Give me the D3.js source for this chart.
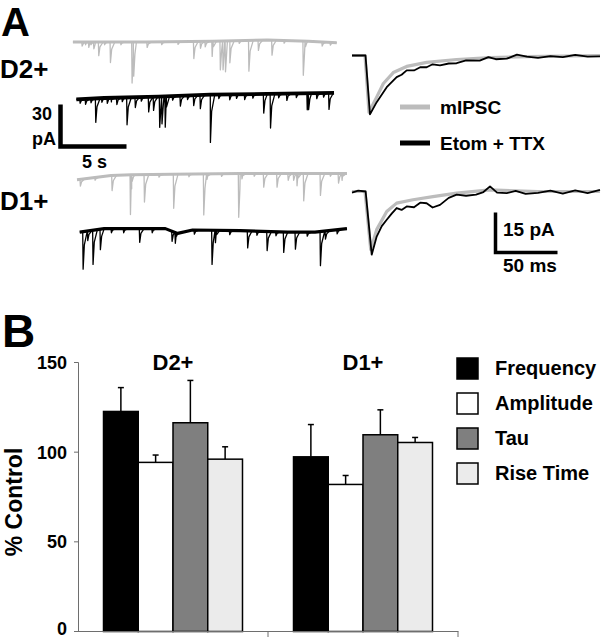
<!DOCTYPE html>
<html><head><meta charset="utf-8">
<script src="https://cdn.jsdelivr.net/npm/d3@7"></script>
<style>body{margin:0;background:#fff}svg{display:block}text{font-family:"Liberation Sans",Arial,sans-serif;font-weight:bold;fill:#000}</style>
</head><body>
<svg id="c" width="603" height="639"></svg>
<script>
// ---------- Panel B data ----------
const categories = ["D2+", "D1+"];
const seriesNames = ["Frequency", "Amplitude", "Tau", "Rise Time"];
const seriesColors = ["#000000", "#ffffff", "#7f7f7f", "#ebebeb"];
const meanD2 = [122.7, 94.3, 116.4, 96.1];
const errD2  = [136.0, 98.4, 140.0, 103.0];
const meanD1 = [97.4, 82.0, 109.7, 105.4];
const errD1  = [115.4, 87.0, 123.6, 108.2];
const yTicks = [0, 50, 100, 150];

// ---------- Panel A data: spontaneous traces (events: [time s, amplitude pA]) ----------
const d2GrayEvents = [[0.35,3],[0.6,2],[0.84,4],[1.0,2],[1.21,5],[1.57,10],[2.0,2],[2.43,15],[3.2,2],[4.02,30],[4.14,25],[5.13,4],[6.2,2],[7.4,2],[8.56,12.5],[9.05,5],[9.4,4],[9.91,11],[10.51,21],[10.71,21],[10.89,22.5],[11.21,16],[11.9,2],[12.61,22.5],[13.31,7.5],[14.31,11],[15.2,2],[16.61,25],[16.77,4],[18.0,3],[18.6,2]];
const d2GrayBase = [[-0.3,0],[5,0],[10,-0.5],[14,-1.5],[17,-0.5],[19.1,0.5]];
const d2BlackEvents = [[0.2,3],[0.6,4],[1.0,3],[1.35,17.5],[1.8,3],[2.2,4],[2.5,3],[2.9,5],[3.3,3],[3.65,20],[4.26,7.5],[4.7,3],[5.24,11],[5.6,10],[6.05,22.5],[6.22,20],[6.46,22.5],[7.0,3],[7.57,7.5],[8.1,3],[8.55,7.5],[9.04,10],[9.78,35],[10.4,3],[11.2,4],[11.7,3],[12.3,4],[12.9,3],[13.7,14],[14.2,25],[14.8,3],[15.4,5],[16.1,3],[16.9,12],[17.0,12],[17.6,4],[18.1,3],[18.5,12]];
const d2BlackBase = [[-0.05,1],[2,0],[6,-1],[9.8,-2.5],[14,-3],[18.9,-3.7]];
const d1GrayEvents = [[0.22,5],[1.3,2],[2.55,11],[3.9,29],[4.02,5],[4.93,20],[6.0,2],[7.08,25],[8.2,2],[9.29,30],[9.53,4],[10.6,2],[11.86,32],[12.1,4],[13.0,2],[13.7,10],[14.68,10],[15.5,5],[15.9,5],[16.15,9],[16.64,20],[17.87,16],[18.6,2],[19.2,7],[19.46,5]];
const d1GrayBase = [[0,4.5],[2.5,1.5],[4,1],[7,0.5],[12,0],[19.85,0]];
const d1BlackEvents = [[0.42,27.5],[0.76,7],[1.15,25],[1.69,15],[2.5,3],[3.4,3],[4.58,10],[5.5,3],[6.96,7.5],[7.2,8],[8.6,3],[9.9,25],[10.15,9],[11.2,3],[12.52,12.5],[13.2,3],[13.95,14],[14.6,3],[15.17,15],[16.03,12.5],[16.9,3],[17.87,25],[18.24,6],[19.1,3]];
const d1BlackBase = [[0.2,1.5],[2,-1],[6.5,-1],[7.4,2.5],[8.5,0],[12,0.5],[15.5,1.5],[17.5,1.5],[19.85,-1]];

// ---------- Panel A data: averaged mIPSCs ([time ms, amplitude pA]) ----------
const d2AvgGray  = [[0,0],[10.5,0],[13.7,21.3],[19.9,15.6],[25.3,10.5],[33.3,6.4],[44.1,4.1],[60.2,2.6],[84.4,1.5],[111.3,0.75],[140.9,0.4],[200,0]];
const d2AvgBlack = [[0,0],[10.9,0],[14.5,22.1],[19.9,17.5],[28,11.9],[36,8.1],[40,7.2],[44.1,5.6],[50,5.6],[55,4.4],[60.2,4.4],[65,3.3],[71,3.7],[78,3.0],[84.4,2.9],[92,1.8],[103,1.9],[110,0.6],[116,1.4],[124.8,1.2],[133,-0.3],[141,0.4],[150,0.9],[160,0.2],[170,0.6],[180,-0.2],[190,0.4],[200,0.3]];
const d1AvgGray  = [[0,0],[10.5,0],[15.1,21.8],[19.9,14.3],[28,7.5],[36,4.35],[49.2,3.1],[65.3,1.9],[84.4,0.6],[111.3,-0.6],[150,0],[200,0]];
const d1AvgBlack = [[0,0.4],[5,-0.3],[11,0],[15.9,23.7],[19.9,16.9],[24,13.0],[28,10.6],[32,8.3],[36,6.2],[40,6.9],[44.1,5.6],[50,5.9],[55,4.2],[60.2,4.4],[65,6.0],[71,5.0],[78,2.4],[84.4,1.2],[92,1.6],[100,1.2],[106,0.2],[111.3,-1.9],[117,0.4],[124.8,0.6],[132,-0.2],[140,0.9],[150,0.5],[160,-0.3],[170,0.8],[180,-0.4],[190,0.6],[200,-0.6]];

const legendA = ["mIPSC", "Etom + TTX"];
const traceGray = "#bcbcbc", traceBlack = "#000";

const svg = d3.select("#c");

// ================= Panel A =================
svg.append("text").attr("x", 1).attr("y", 36).style("font-size", "40px").text("A");
svg.append("text").attr("x", 0).attr("y", 78).style("font-size", "26px").text("D2+");
svg.append("text").attr("x", 0).attr("y", 210).style("font-size", "26px").text("D1+");

const xs = d3.scaleLinear().domain([0, 5]).range([77, 145]); // 5 s = 68 px
const pxPerPA = 41 / 30;

function drawTrace(events, base, baseY, color, bandW) {
  const b = d3.scaleLinear().domain(base.map(d => d[0])).range(base.map(d => d[1])).clamp(true);
  const ys = v => baseY + v * pxPerPA;
  svg.append("path").datum(base)
    .attr("d", d3.line().x(d => xs(d[0])).y(d => ys(d[1])))
    .attr("fill", "none").attr("stroke", color).attr("stroke-width", bandW).attr("stroke-linejoin", "round");
  const pts = base.map(d => [d[0], d[1]]);
  events.forEach(([t, a]) => {
    pts.push([t, b(t)], [t + 0.03, b(t) + a], [t + 0.12, b(t) + a * 0.35], [t + 0.35, b(t + 0.35)]);
  });
  pts.sort((p, q) => p[0] - q[0]);
  svg.append("path").datum(pts)
    .attr("d", d3.line().x(d => xs(d[0])).y(d => ys(d[1])))
    .attr("fill", "none").attr("stroke", color).attr("stroke-width", 1.3).attr("stroke-linejoin", "round");
}
drawTrace(d2GrayEvents, d2GrayBase, 42, traceGray, 3);
drawTrace(d2BlackEvents, d2BlackBase, 98, traceBlack, 3.8);
drawTrace(d1GrayEvents, d1GrayBase, 173.5, traceGray, 3);
drawTrace(d1BlackEvents, d1BlackBase, 230, traceBlack, 3.2);

// scale bar 30 pA / 5 s
const sbX = 60.5, sbY = 146.5;
svg.append("path")
  .attr("d", `M${sbX},${sbY - 30 * pxPerPA - 1}V${sbY}H${sbX + xs(5) - xs(0) - 2}`)
  .attr("fill", "none").attr("stroke", "#000").attr("stroke-width", 4.5);
svg.append("text").attr("x", 52).attr("y", 120).attr("text-anchor", "end").style("font-size", "18px").text("30");
svg.append("text").attr("x", 32).attr("y", 145).style("font-size", "18px").text("pA");
svg.append("text").attr("x", 82).attr("y", 168).style("font-size", "18px").text("5 s");

// averaged traces
const xm = d3.scaleLinear().domain([0, 200]).range([352, 600]);
const pxPerPA2 = 40 / 15;
function drawAvg(data, baseY, color, w) {
  svg.append("path").datum(data)
    .attr("d", d3.line().x(d => xm(d[0])).y(d => baseY + d[1] * pxPerPA2))
    .attr("fill", "none").attr("stroke", color).attr("stroke-width", w).attr("stroke-linejoin", "round");
}
drawAvg(d2AvgGray, 55.5, traceGray, 3.2);
drawAvg(d2AvgBlack, 55.5, traceBlack, 1.8);
drawAvg(d1AvgGray, 191.5, traceGray, 3.2);
drawAvg(d1AvgBlack, 191.5, traceBlack, 1.8);

// legend A
[[traceGray, 107, 114], [traceBlack, 143, 150]].forEach(([c, ly, ty], i) => {
  svg.append("line").attr("x1", 400).attr("x2", 430).attr("y1", ly).attr("y2", ly)
    .attr("stroke", c).attr("stroke-width", 5);
  svg.append("text").attr("x", 440).attr("y", ty).style("font-size", "19px").text(legendA[i]);
});

// scale bar 15 pA / 50 ms
const sb2X = 495.5, sb2Y = 252.5;
svg.append("path")
  .attr("d", `M${sb2X},${sb2Y - 15 * pxPerPA2}V${sb2Y}H${sb2X + xm(50) - xm(0)}`)
  .attr("fill", "none").attr("stroke", "#000").attr("stroke-width", 3.5);
svg.append("text").attr("x", 503).attr("y", 236).style("font-size", "19px").text("15 pA");
svg.append("text").attr("x", 503).attr("y", 272).style("font-size", "19px").text("50 ms");

// ================= Panel B =================
svg.append("text").attr("x", 2).attr("y", 347).style("font-size", "46px").text("B");

const y = d3.scaleLinear().domain([0, 150]).range([631.5, 362.5]);
const x0 = d3.scaleBand().domain(categories).range([78, 458]).padding(0);
const x1 = d3.scaleBand().domain(seriesNames).range([0, x0.bandwidth()]).paddingInner(0).paddingOuter(0.734);

const axisCol = "#6e6e6e";
svg.append("line").attr("x1", 78.5).attr("x2", 78.5).attr("y1", y(150)).attr("y2", y(0)).attr("stroke", axisCol);
yTicks.forEach(t => {
  svg.append("line").attr("x1", 74).attr("x2", 78.5).attr("y1", y(t)).attr("y2", y(t)).attr("stroke", axisCol);
  svg.append("text").attr("x", 67).attr("y", Math.min(y(t) + 6.5, 635)).attr("text-anchor", "end").style("font-size", "18px").text(t);
});
svg.append("text").attr("transform", `translate(22,502) rotate(-90)`).attr("text-anchor", "middle")
  .style("font-size", "23px").text("% Control");

const groups = [[meanD2, errD2], [meanD1, errD1]];
categories.forEach((cat, ci) => {
  const [m, e] = groups[ci];
  seriesNames.forEach((s, si) => {
    const bx = x0(cat) + x1(s), bw = x1.bandwidth();
    const cx = bx + bw / 2;
    svg.append("line").attr("x1", cx).attr("x2", cx).attr("y1", y(m[si])).attr("y2", y(e[si]))
      .attr("stroke", "#000").attr("stroke-width", 1.5);
    svg.append("line").attr("x1", cx - 3).attr("x2", cx + 3).attr("y1", y(e[si])).attr("y2", y(e[si]))
      .attr("stroke", "#000").attr("stroke-width", 1.5);
    svg.append("rect").attr("x", bx).attr("y", y(m[si])).attr("width", bw).attr("height", y(0) - y(m[si]))
      .attr("fill", seriesColors[si]).attr("stroke", "#000").attr("stroke-width", 1.5);
  });
  svg.append("text").attr("x", x0(cat) + x0.bandwidth() / 2).attr("y", 370).attr("text-anchor", "middle")
    .style("font-size", "22px").text(cat);
});
svg.append("line").attr("x1", 78).attr("x2", 458.5).attr("y1", 631.5).attr("y2", 631.5).attr("stroke", axisCol);
categories.forEach(cat => {
  const xe = x0(cat) + x0.bandwidth();
  svg.append("line").attr("x1", xe).attr("x2", xe).attr("y1", 631.5).attr("y2", 637).attr("stroke", axisCol);
});

// legend B
seriesNames.forEach((s, i) => {
  const ly = 358 + i * 35;
  svg.append("rect").attr("x", 457).attr("y", ly).attr("width", 21).attr("height", 21)
    .attr("fill", seriesColors[i]).attr("stroke", "#000").attr("stroke-width", 1.5);
  svg.append("text").attr("x", 495).attr("y", ly + 17).style("font-size", "20px").text(s);
});
</script>
</body></html>
